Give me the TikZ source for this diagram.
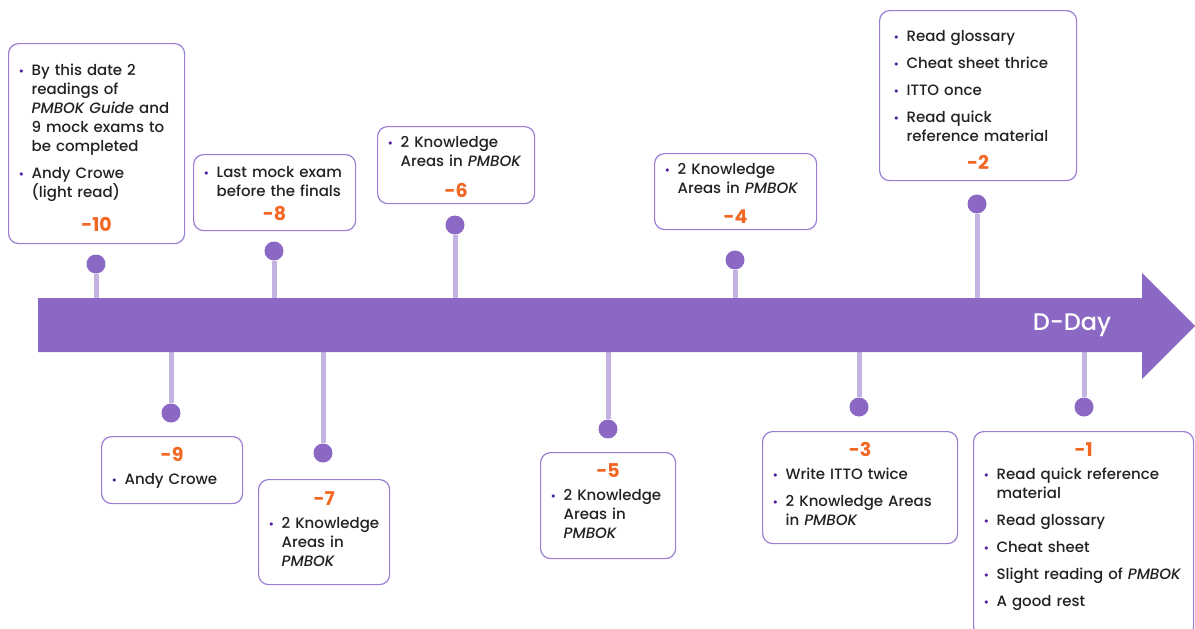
\documentclass[tikz,border=0pt]{standalone}
\usepackage{fontspec}
\setmainfont{Poppins}[UprightFont=* Medium, ItalicFont=* Medium Italic, BoldFont=* Bold]
\usetikzlibrary{positioning, calc}

\definecolor{tlpurple}{RGB}{138,104,196}
\definecolor{tlstem}{RGB}{196,180,226}
\definecolor{tlframe}{RGB}{155,125,212}
\definecolor{tlbullet}{RGB}{80,30,160}
\definecolor{tlorange}{RGB}{242,103,36}
\definecolor{tltext}{RGB}{34,34,34}

% one bullet point with a hanging indent
\newcommand{\tlitem}[1]{\par\noindent\hangindent=13pt\hangafter=1\makebox[13pt][l]{\textcolor{tlbullet}{\fontsize{12}{12}\selectfont\textbullet}}#1\par}
% day number under the items (optional extra gap) / above the items
\newcommand{\tldaylow}[2][0pt]{\par\vspace{\dimexpr-7pt+#1\relax}{\centering\leavevmode\fontsize{19}{22}\selectfont\bfseries\textcolor{tlorange}{#2}\par}}
\newcommand{\tldayhigh}[1]{\par{\centering\leavevmode\fontsize{19}{22}\selectfont\bfseries\textcolor{tlorange}{#1}\par}\vspace{-4pt}}

\begin{document}
\begin{tikzpicture}[x=1pt, y=-1pt,
  tlbox/.style={draw=tlframe, line width=1.2pt, rounded corners=10pt, fill=white, anchor=north west,
    inner xsep=10pt, inner ysep=0pt, text=tltext, font=\fontsize{15}{19}\selectfont,
    execute at begin node={\setlength{\parskip}{8pt}\raggedright\vspace*{-8pt}}},
  tlup/.style={execute at end node={\endgraf\vspace{#1}}},
  tldot/.style={circle, fill=tlpurple, minimum size=19pt, inner sep=0pt},
  tlstem/.style={draw=tlstem, line width=5pt}]
\clip (0,0) rectangle (1195,629);

% markers above the arrow
\node[tldot] (d10) at (96,264) {};
\node[tldot] (d8) at (274,251) {};
\node[tldot] (d6) at (455,225) {};
\node[tldot] (d4) at (735,260) {};
\node[tldot] (d2) at (977,204) {};
% markers below the arrow
\node[tldot] (d9) at (171,413) {};
\node[tldot] (d7) at (323,453) {};
\node[tldot] (d5) at (608,429) {};
\node[tldot] (d3) at (859,407) {};
\node[tldot] (d1) at (1084,407) {};

\foreach \n/\x in {10/96, 8/274, 6/455, 4/735, 2/977}
  \coordinate (a\n) at (\x,298);
\foreach \n/\x in {9/171, 7/323, 5/608, 3/859, 1/1084}
  \coordinate (a\n) at (\x,352);
\foreach \n in {1,...,10}
  \draw[tlstem] (d\n) -- (a\n);

% the time line
\fill[tlpurple] (38,298) -- (1142,298) -- (1142,273) -- (1195,326) -- (1142,379) -- (1142,352) -- (38,352) -- cycle;
\node[text=white, font=\fontsize{24}{24}\selectfont] (dday) at (1072,325) {D-Day};

% boxes above
\node[tlbox, text width=156pt, minimum height=200pt] (b10) at (8,43) {%
  \tlitem{By this date 2\newline readings of\newline \emph{PMBOK Guide} and\newline 9 mock exams to\newline be completed}
  \tlitem{Andy Crowe\newline (light read)}
  \tldaylow[11pt]{-10}};
\node[tlbox, tlup=6pt, text width=142pt, minimum height=76pt] (b8) at (193,154) {%
  \tlitem{Last mock exam\newline before the finals}
  \tldaylow[1pt]{-8}};
\node[tlbox, tlup=4pt, text width=137pt, minimum height=77pt] (b6) at (377,126) {%
  \tlitem{2 Knowledge\newline Areas in \emph{PMBOK}}
  \tldaylow[8pt]{-6}};
\node[tlbox, tlup=5pt, text width=142pt, minimum height=76pt] (b4) at (654,153) {%
  \tlitem{2 Knowledge\newline Areas in \emph{PMBOK}}
  \tldaylow[7pt]{-4}};
\node[tlbox, inner xsep=14pt, text width=169pt, minimum height=170pt] (b2) at (879,10) {%
  \tlitem{Read glossary}
  \tlitem{Cheat sheet thrice}
  \tlitem{ITTO once}
  \tlitem{Read quick\newline reference material}
  \tldaylow[5pt]{-2}};

% boxes below
\node[tlbox, tlup=12pt, text width=121pt, minimum height=67pt] (b9) at (101,436) {%
  \tldayhigh{-9}
  \tlitem{Andy Crowe}};
\node[tlbox, tlup=14pt, text width=111pt, minimum height=105pt] (b7) at (258,479) {%
  \tldayhigh{-7}
  \tlitem{2 Knowledge\newline Areas in\newline \emph{PMBOK}}};
\node[tlbox, tlup=18pt, text width=115pt, minimum height=106pt] (b5) at (540,452) {%
  \tldayhigh{-5}
  \tlitem{2 Knowledge\newline Areas in\newline \emph{PMBOK}}};
\node[tlbox, tlup=16pt, text width=175pt, minimum height=112pt] (b3) at (762,431) {%
  \tldayhigh{-3}
  \tlitem{Write ITTO twice}
  \tlitem{2 Knowledge Areas\newline in \emph{PMBOK}}};
\node[tlbox, tlup=24pt, text width=200pt, minimum height=205pt] (b1) at (973,431) {%
  \tldayhigh{-1}
  \tlitem{Read quick reference\newline material}
  \tlitem{Read glossary}
  \tlitem{Cheat sheet}
  \tlitem{Slight reading of \emph{PMBOK}}
  \tlitem{A good rest}};
\end{tikzpicture}
\end{document}
